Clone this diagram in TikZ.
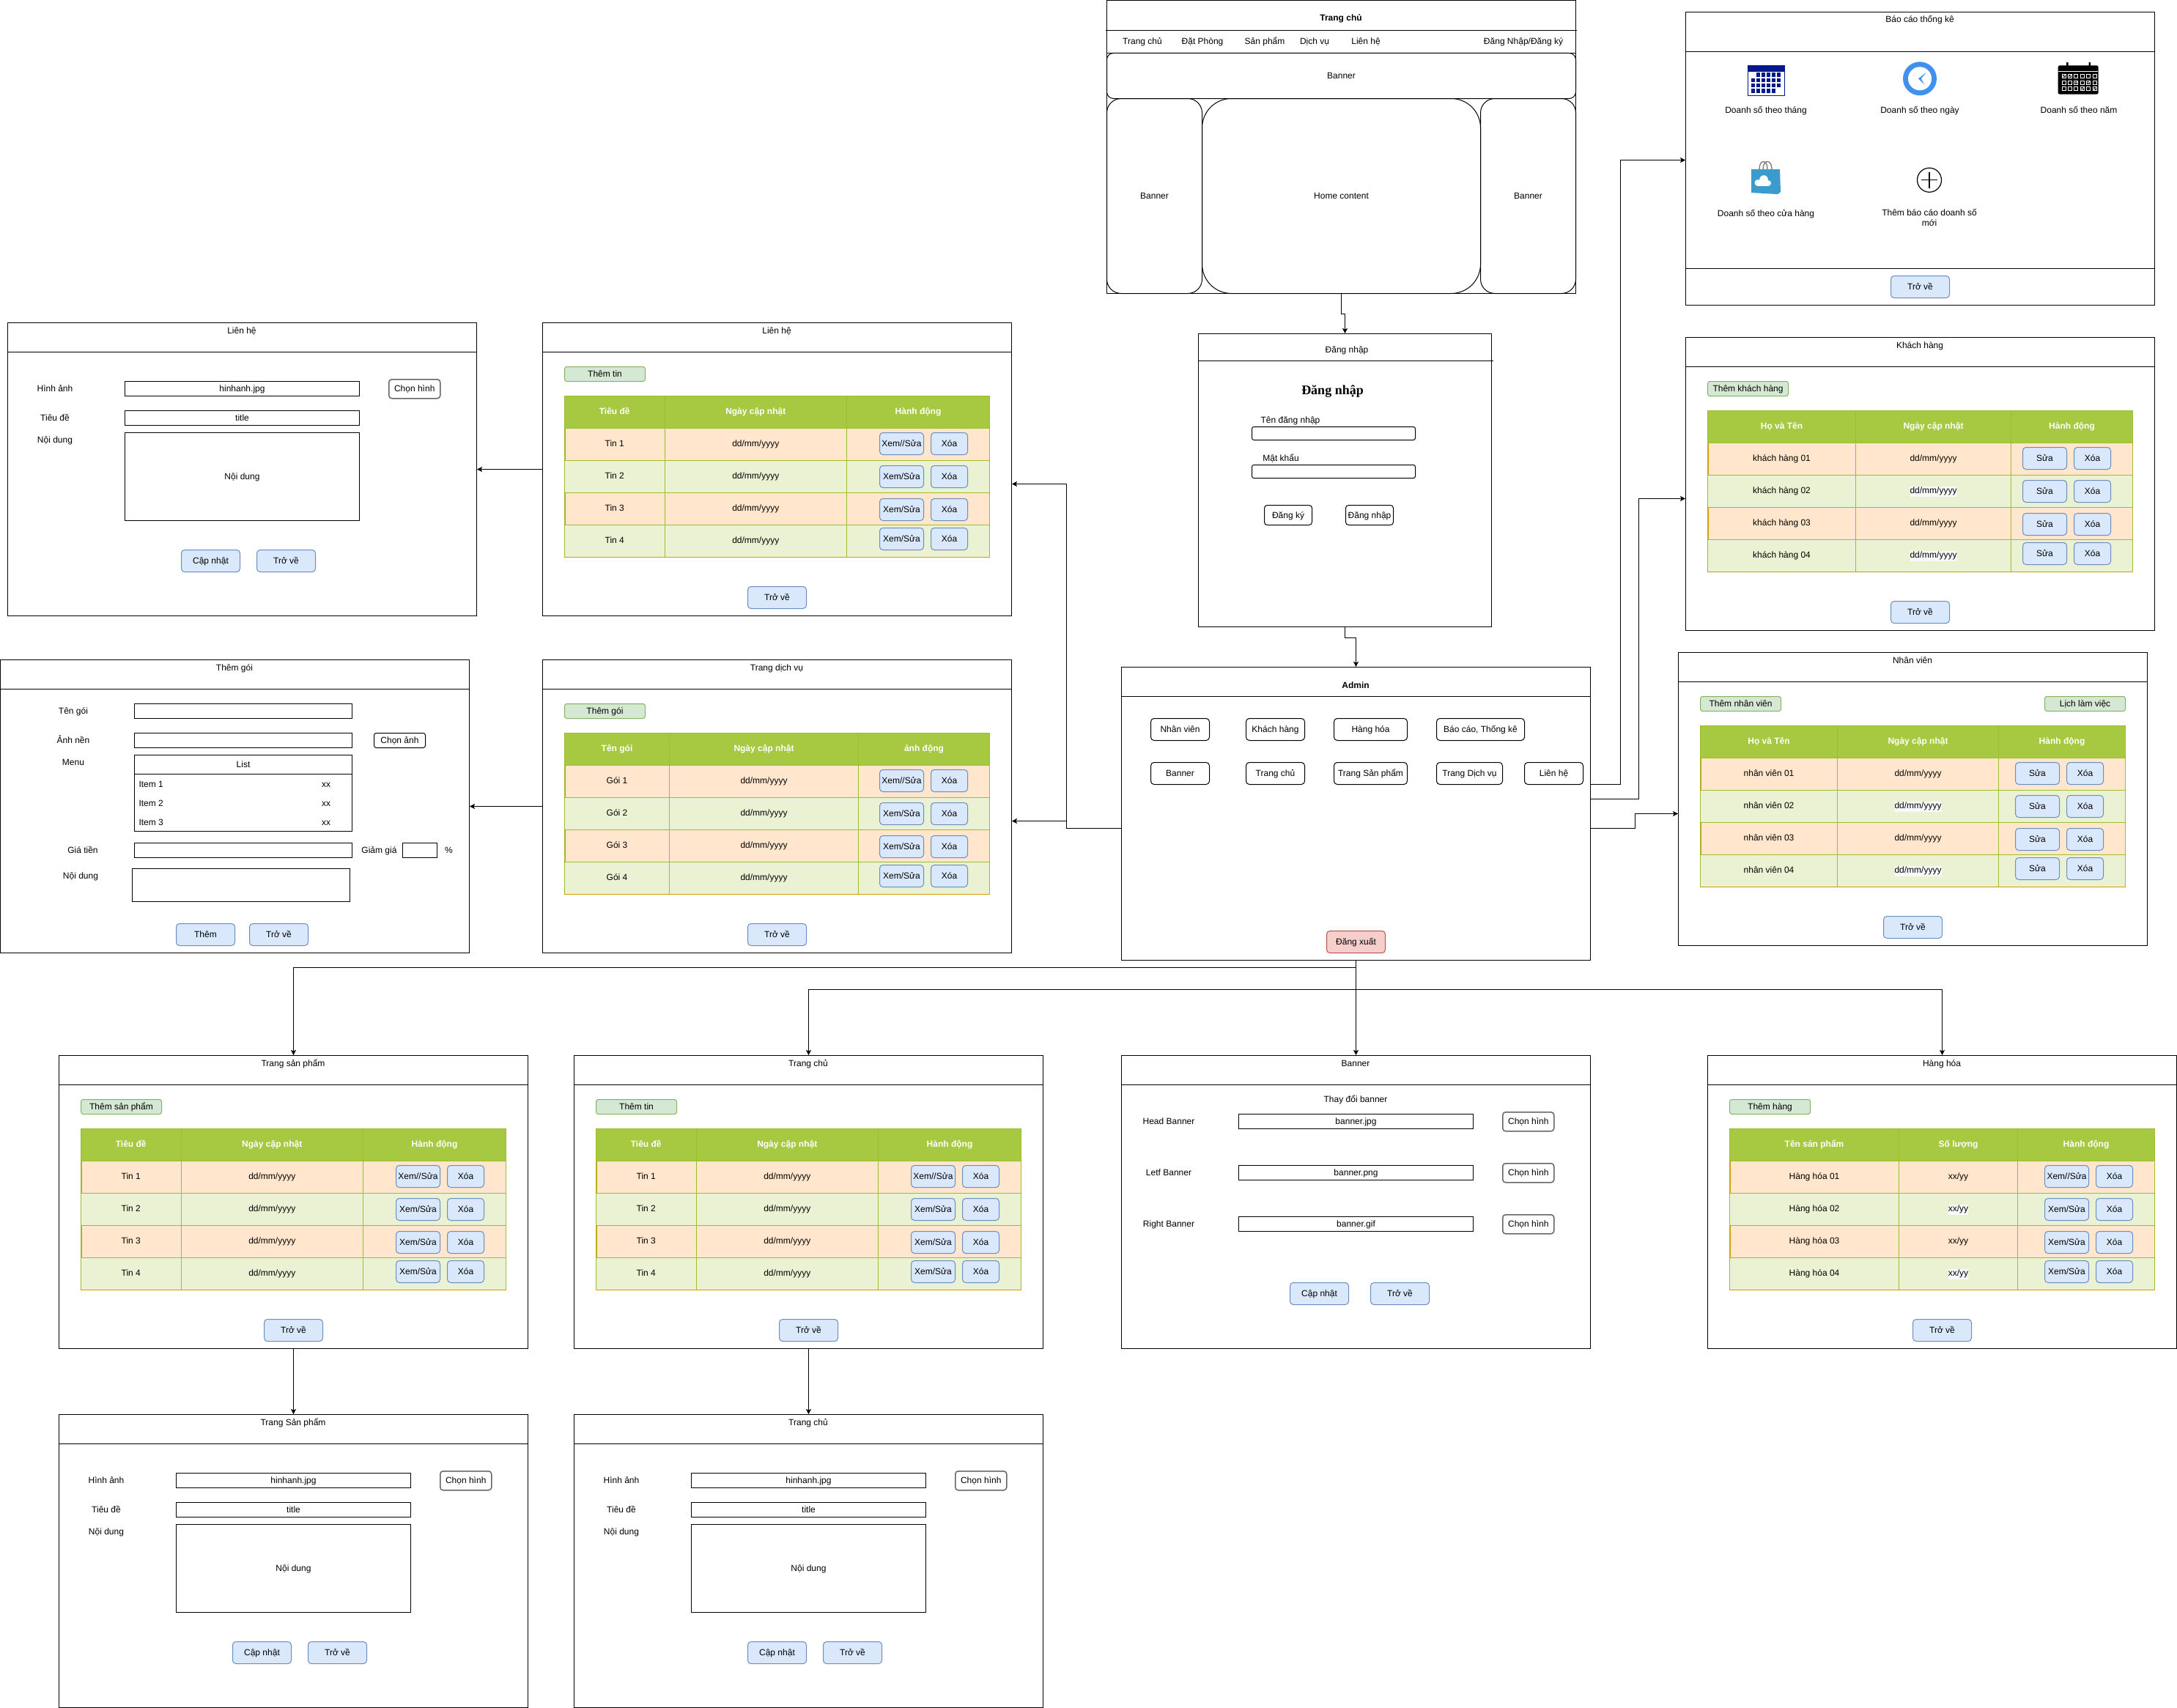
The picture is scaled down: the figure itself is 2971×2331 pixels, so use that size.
\documentclass[tikz,border=0pt]{standalone}
\usepackage{fontspec}
\setmainfont{Liberation Sans}
\newfontfamily\loginfont{Liberation Serif}
\usepackage{xcolor}
\definecolor{headgreen}{HTML}{A7C942}
\definecolor{cellline}{HTML}{9CBE2E}
\definecolor{rowa}{HTML}{FFE6CC}
\definecolor{rowb}{HTML}{EAF2D3}
\definecolor{rowedge}{HTML}{D79B00}
\definecolor{datebg}{HTML}{F8F9FA}
\definecolor{btnblue}{HTML}{DAE8FC}
\definecolor{btnline}{HTML}{6C8EBF}
\definecolor{addgreen}{HTML}{D5E8D4}
\definecolor{addline}{HTML}{82B366}
\definecolor{exitred}{HTML}{F8CECC}
\definecolor{exitline}{HTML}{B85450}
\definecolor{pickline}{HTML}{666666}
\definecolor{calblue}{HTML}{00188D}
\definecolor{clockblue}{HTML}{4090F0}
\definecolor{bagblue}{HTML}{3A9BCC}
\usetikzlibrary{arrows.meta}
\tikzset{
  screen/.style={draw,anchor=north west,inner sep=0pt,minimum width=640pt,minimum height=400pt},
  txt/.style={inner sep=0pt,text height=11pt},
  bluebtn/.style={draw=btnline,fill=btnblue,rounded corners=4.5pt,anchor=north west,inner sep=0pt,
                  text height=11pt,minimum height=30pt,minimum width=(#1)*1pt},
  redbtn/.style={bluebtn=#1,draw=exitline,fill=exitred},
  addbtn/.style={draw=addline,fill=addgreen,rounded corners=3pt,anchor=north west,inner sep=0pt,
                 text height=11pt,minimum height=20pt,minimum width=110pt},
  menubtn/.style={draw,rounded corners=4.5pt,anchor=north west,inner sep=0pt,text height=11pt,
                  minimum height=30pt,minimum width=(#1)*1pt},
  pickbtn/.style={draw=pickline,line width=1.5pt,fill=white,rounded corners=3.9pt,anchor=north west,
                  inner sep=0pt,text height=11pt,minimum width=70pt,minimum height=26pt},
  inputbox/.style={draw,anchor=north west,inner sep=0pt,text height=11pt,minimum height=(#1)*1pt,minimum width=320pt},
  inputbox/.default=20,
  roundbox/.style={draw,anchor=north west,inner sep=0pt,text height=11pt,rounded corners=#1},
  headcell/.style={draw=cellline,fill=headgreen,anchor=north west,inner sep=0pt,text=white,
                   font=\fontsize{12}{14}\selectfont\bfseries,minimum height=44pt,minimum width=(#1)*1pt},
  tablecell/.style={draw=cellline,anchor=north west,inner sep=0pt,minimum height=44pt,minimum width=(#1)*1pt},
  flow/.style={-{Stealth[length=7pt,width=7pt,inset=1.5pt]},draw=black},
}
% frame of a screen with a table
\newcommand{\listframe}[3]{%
  \node[screen] (#1) at (0,0) {};
  \draw (0,40.5) -- (640,40.5);
  \node[txt] (#1title) at (320,11) {#2};
  \node[addbtn] (#1add) at (30,60) {#3};
  \node[bluebtn=80] (#1back) at (280,360) {Trở về};
}
% prefix, column edges, headings
\newcommand{\listhead}[6]{%
  \node[headcell=#2-30] (#1headA) at (30,100) {#4};
  \node[headcell=#3-#2] (#1headB) at (#2,100) {#5};
  \node[headcell=610-#3] (#1headC) at (#3,100) {#6};
}
% prefix, column edges, row text, date text, first button, other buttons, date background
\newcommand{\listrows}[8]{%
  \foreach \rownum/\rowtop/\btntop/\rowcol in {1/144/150/rowa,2/188/195/rowb,3/232/240/rowa,4/276/280/rowb}{
    \node[tablecell=#2-30,fill=\rowcol] (#1cellA\rownum) at (30,\rowtop) {#4\rownum};
    \node[tablecell=#3-#2,fill=\rowcol] (#1cellB\rownum) at (#2,\rowtop)
      {\ifodd\rownum\relax #5\else\setlength{\fboxsep}{0pt}\colorbox{#8}{\strut #5}\fi};
    \node[tablecell=610-#3,fill=\rowcol] (#1cellC\rownum) at (#3,\rowtop) {};
    \node[bluebtn=60] (#1edit\rownum) at (460,\btntop) {\ifnum\rownum=1\relax #6\else #7\fi};
    \node[bluebtn=50] (#1del\rownum) at (530,\btntop) {Xóa};
  }
  \draw[rowedge] (31.5,144) -- (31.5,188) (31.5,232) -- (31.5,276);
  \draw[rowedge,line width=1.5pt] (30,320.5) -- (610,320.5);
}
% screen with image, title and content fields
\newcommand{\editscreen}[2]{%
  \node[screen] (#1) at (0,0) {};
  \draw (0,40.5) -- (640,40.5);
  \node[txt] (#1title) at (320,11) {#2};
  \node[txt] (#1imglabel) at (65,90) {Hình ảnh};
  \node[inputbox] (#1img) at (160,80) {hinhanh.jpg};
  \node[pickbtn] (#1pick) at (520,77) {Chọn hình};
  \node[txt] (#1titlelabel) at (65,130) {Tiêu đề};
  \node[inputbox] (#1titlebox) at (160,120) {title};
  \node[txt] (#1bodylabel) at (65,160) {Nội dung};
  \node[inputbox=120] (#1body) at (160,150) {Nội dung};
  \node[bluebtn=80] (#1save) at (237,310) {Cập nhật};
  \node[bluebtn=80] (#1back) at (340,310) {Trở về};
}
\begin{document}
\begin{tikzpicture}[x=1pt,y=-1pt,line width=1pt,every node/.style={font=\fontsize{12}{14}\selectfont,text height=9pt,text depth=3pt}]
  \useasboundingbox (0,0) rectangle (2971,2331);
  % home page
  \begin{scope}[shift={(1510,0)}]
    \node[screen] (home) at (0,0) {};
    \draw (-1,41.5) -- (642,41.5);
    \draw (0,72.5) -- (640,72.5);
    \node[txt,font=\fontsize{12}{14}\selectfont\bfseries] (hometitle) at (320,25) {Trang chủ};
    \node[txt] (navhome) at (49,57) {Trang chủ};
    \node[txt] (navbook) at (131,57) {Đặt Phòng};
    \node[txt] (navprod) at (216,57) {Sản phẩm};
    \node[txt] (navserv) at (284,57) {Dịch vụ};
    \node[txt] (navcont) at (354,57) {Liên hệ};
    \node[txt] (navlogin) at (569,57) {Đăng Nhập/Đăng ký};
    \node[roundbox=9pt,minimum width=640pt,minimum height=62pt] (bantop) at (0,72) {Banner};
    \node[roundbox=19.5pt,minimum width=130pt,minimum height=266pt] (banleft) at (0,134) {Banner};
    \node[roundbox=40pt,minimum width=380pt,minimum height=266pt] (homebody) at (130,134) {Home content};
    \node[roundbox=19.5pt,minimum width=130pt,minimum height=266pt] (banright) at (510,134) {Banner};
  \end{scope}
  % login
  \begin{scope}[shift={(1635,455)}]
    \node[screen,minimum width=400pt] (login) at (0,0) {};
    \draw (0,37.5) -- (403,37.5);
    \node[txt] (logintitle) at (203,22.5) {Đăng nhập};
    \node[txt,font=\fontsize{18}{20}\loginfont\bfseries] (loginhead) at (183.5,79) {Đăng nhập};
    \node[txt] (userlabel) at (126,118.5) {Tên đăng nhập};
    \node[roundbox=2.7pt,minimum width=223pt,minimum height=18pt] (userbox) at (73,127) {};
    \node[txt] (passlabel) at (113,170.5) {Mật khẩu};
    \node[roundbox=2.7pt,minimum width=223pt,minimum height=18pt] (passbox) at (73,179) {};
    \node[roundbox=4pt,minimum width=65pt,minimum height=27pt] (regbtn) at (90,234) {Đăng ký};
    \node[roundbox=4pt,minimum width=65pt,minimum height=27pt] (loginbtn) at (201,234) {Đăng nhập};
  \end{scope}
  % admin
  \begin{scope}[shift={(1530,910)}]
    \node[screen] (admin) at (0,0) {};
    \draw (0,40.5) -- (640,40.5);
    \node[txt,font=\fontsize{12}{14}\selectfont\bfseries] (admintitle) at (320,25) {Admin};
    \node[menubtn=80] (menustaff) at (40,70) {Nhân viên};
    \node[menubtn=80] (menucust) at (170,70) {Khách hàng};
    \node[menubtn=100] (menugoods) at (290,70) {Hàng hóa};
    \node[menubtn=120] (menustats) at (430,70) {Báo cáo, Thống kê};
    \node[menubtn=80] (menubanner) at (40,130) {Banner};
    \node[menubtn=80] (menuhome) at (170,130) {Trang chủ};
    \node[menubtn=100] (menuprod) at (290,130) {Trang Sản phẩm};
    \node[menubtn=90] (menuserv) at (430,130) {Trang Dịch vụ};
    \node[menubtn=80] (menucont) at (550,130) {Liên hệ};
    \node[redbtn=80] (logout) at (280,360) {Đăng xuất};
  \end{scope}
  % reports
  \begin{scope}[shift={(2300,16)}]
    \node[screen] (stats) at (0,0) {};
    \draw (0,54.5) -- (640,54.5);
    \draw (0,350.5) -- (640,350.5);
    \node[txt] (statstitle) at (320,11) {Báo cáo thống kê};
    \node[bluebtn=80] (statsback) at (280,360) {Trở về};
    \node[txt] (statsmonth) at (110,134.5) {Doanh số theo tháng};
    \node[txt] (statsday) at (320,134.5) {Doanh số theo ngày};
    \node[txt] (statsyear) at (537,134.5) {Doanh số theo năm};
    \node[txt] (statsshop) at (110,275.5) {Doanh số theo cửa hàng};
    \node[txt,align=center,text height={},text depth={}] (statsnew) at (333,281) {Thêm báo cáo doanh số\\mới};
    % month calendar
    \draw[calblue,fill=white] (85.5,73.5) rectangle (135.5,114.5);
    \fill[calblue] (85.5,73.5) rectangle (135.5,81.5);
    \foreach \row/\col in {1/2,1/3,1/4,1/5,1/6,2/1,2/2,2/3,2/4,2/5,2/6,3/1,3/2,3/3,3/4,3/5,3/6,4/1,4/2,4/3,4/4,4/5}
      \fill[calblue] ({83+7*\col},{76+7.3*\row}) rectangle ++(5.2,5.4);
    % clock
    \fill[clockblue] (320,91.3) circle (23);
    \fill[white] (320,91.3) circle (16);
    \fill[clockblue] (328.5,83) -- (318,91.3) -- (326,99) -- (321.8,91.3) -- cycle;
    % year calendar
    \fill[black,rounded corners=2.5pt] (508.6,73.3) rectangle (563.7,112.7);
    \fill[black] (520,69) rectangle (522.5,77) (550.5,69) rectangle (553,77);
    \draw[white,line width=0.6pt] (509,81) -- (563,81);
    \foreach \row in {0,1,2}
      \foreach \col in {0,...,5}
        \draw[white,line width=0.7pt] ({514+8.4*\col},{85.3+8.7*\row}) rectangle ++(5,5);
    \foreach \col/\row in {0/0,1/0,2/1,4/1,3/2,5/2}
      \draw[white,line width=0.7pt] ({515+8.4*\col},{87.5+8.7*\row}) -- ++(1.3,1.5) -- ++(2,-3);
    % shop bag
    \draw[gray,line width=1.4pt] (101,215) .. controls (101,201) and (112,201) .. (112,215)
      (106,215) .. controls (106,201) and (118,201) .. (118,215);
    \fill[bagblue] (90,215) -- (129,215) -- (130,246) -- (126,249) -- (90,247) -- cycle;
    \fill[white] (107,229) circle (5.8);
    \fill[white] (99,233.5) circle (4.5);
    \fill[white] (113,234) circle (4);
    \fill[white] (98,232) rectangle (114,238);
    % add report
    \draw[line width=1.2pt] (333,229.7) circle (16.5);
    \draw[line width=1.2pt] (322,229.7) -- (344,229.7) (333,218.7) -- (333,240.7);
  \end{scope}
  % customers
  \begin{scope}[shift={(2300,460)}]
    \listframe{customers}{Khách hàng}{Thêm khách hàng}
    \listhead{customers}{232}{444}{Họ và Tên}{Ngày cập nhật}{Hành động}
    \listrows{customers}{232}{444}{khách hàng 0}{dd/mm/yyyy}{Sửa}{Sửa}{datebg}
  \end{scope}
  % staff
  \begin{scope}[shift={(2290,890)}]
    \listframe{staff}{Nhân viên}{Thêm nhân viên}
    \node[addbtn] (staffplan) at (500,60) {Lịch làm việc};
    \listhead{staff}{217}{437}{Họ và Tên}{Ngày cập nhật}{Hành động}
    \listrows{staff}{217}{437}{nhân viên 0}{dd/mm/yyyy}{Sửa}{Sửa}{datebg}
  \end{scope}
  % contact
  \begin{scope}[shift={(10,440)}]
    \editscreen{contactedit}{Liên hệ}
  \end{scope}
  \begin{scope}[shift={(740,440)}]
    \listframe{contact}{Liên hệ}{Thêm tin}
    \listhead{contact}{166.5}{415}{Tiêu đề}{Ngày cập nhật}{Hành động}
    \listrows{contact}{166.5}{415}{Tin }{dd/mm/yyyy}{Xem//Sửa}{Xem/Sửa}{rowb}
  \end{scope}
  % services
  \begin{scope}[shift={(740,900)}]
    \listframe{service}{Trang dịch vụ}{Thêm gói}
    \listhead{service}{173}{431}{Tên gói}{Ngày cập nhật}{ảnh động}
    \listrows{service}{173}{431}{Gói }{dd/mm/yyyy}{Xem//Sửa}{Xem/Sửa}{rowb}
  \end{scope}
  \begin{scope}[shift={(0,900)}]
    \node[screen] (addpack) at (0,0) {};
    \draw (0,40.5) -- (640,40.5);
    \node[txt] (addpacktitle) at (320,11) {Thêm gói};
    \node[txt] (packnamelabel) at (100,70) {Tên gói};
    \node[inputbox,minimum width=297pt] (packname) at (183,60) {};
    \node[txt] (packimglabel) at (100,110) {Ảnh nền};
    \node[inputbox,minimum width=297pt] (packimg) at (183,100) {};
    \node[roundbox=3pt,minimum width=70pt,minimum height=20pt] (packpick) at (510,100) {Chọn ảnh};
    \node[txt] (packmenulabel) at (100,140) {Menu};
    \node[inputbox=104,minimum width=297pt] (packlist) at (183,130) {};
    \draw (183.5,156.5) -- (480.5,156.5);
    \node[txt] (packlisthead) at (332,143) {List};
    \foreach \itemnum/\itemy in {1/170,2/196,3/222}{
      \node[txt,anchor=west] (packitem\itemnum) at (189,\itemy) {Item \itemnum};
      \node[txt] (packxx\itemnum) at (445,\itemy) {xx};
    }
    \node[txt] (packpricelabel) at (113,260) {Giá tiền};
    \node[inputbox,minimum width=297pt] (packprice) at (183,250) {};
    \node[txt] (packofflabel) at (517.5,260) {Giảm giá};
    \node[inputbox,minimum width=47pt] (packoff) at (549,250) {};
    \node[txt] (packpercent) at (612.5,260) {\%};
    \node[txt] (packbodylabel) at (110,295) {Nội dung};
    \node[inputbox=45,minimum width=297pt] (packbody) at (180,285) {};
    \node[bluebtn=80] (packadd) at (240,360) {Thêm};
    \node[bluebtn=80] (packback) at (340,360) {Trở về};
  \end{scope}
  % lower row
  \begin{scope}[shift={(80,1440)}]
    \listframe{products}{Trang sản phẩm}{Thêm sản phẩm}
    \listhead{products}{166.5}{415}{Tiêu đề}{Ngày cập nhật}{Hành động}
    \listrows{products}{166.5}{415}{Tin }{dd/mm/yyyy}{Xem//Sửa}{Xem/Sửa}{rowb}
  \end{scope}
  \begin{scope}[shift={(783,1440)}]
    \listframe{homepage}{Trang chủ}{Thêm tin}
    \listhead{homepage}{166.5}{415}{Tiêu đề}{Ngày cập nhật}{Hành động}
    \listrows{homepage}{166.5}{415}{Tin }{dd/mm/yyyy}{Xem//Sửa}{Xem/Sửa}{rowb}
  \end{scope}
  \begin{scope}[shift={(1530,1440)}]
    \node[screen] (bannerpage) at (0,0) {};
    \draw (0,40.5) -- (640,40.5);
    \node[txt] (bannertitle) at (320,11) {Banner};
    \node[txt] (bannerhint) at (320,60) {Thay đổi banner};
    \foreach \slot/\slotname/\slotfile/\sloty in {head/Head Banner/banner.jpg/80,left/Letf Banner/banner.png/150,right/Right Banner/banner.gif/220}{
      \node[txt] (\slot label) at (65,\sloty+10) {\slotname};
      \node[inputbox] (\slot file) at (160,\sloty) {\slotfile};
      \node[pickbtn] (\slot pick) at (520,\sloty-3) {Chọn hình};
    }
    \node[bluebtn=80] (bannersave) at (230,310) {Cập nhật};
    \node[bluebtn=80] (bannerback) at (340,310) {Trở về};
  \end{scope}
  \begin{scope}[shift={(2330,1440)}]
    \listframe{goods}{Hàng hóa}{Thêm hàng}
    \listhead{goods}{261}{423}{Tên sản phẩm}{Số lượng}{Hành động}
    \listrows{goods}{261}{423}{Hàng hóa 0}{xx/yy}{Xem//Sửa}{Xem/Sửa}{datebg}
  \end{scope}
  % edit screens
  \begin{scope}[shift={(80,1930)}]
    \editscreen{productedit}{Trang Sản phẩm}
  \end{scope}
  \begin{scope}[shift={(783,1930)}]
    \editscreen{homeedit}{Trang chủ}
  \end{scope}
  % arrows
  \draw[flow] (home.south) -- ++(0,27.5) -| (login.north);
  \draw[flow] (login.south) -- ++(0,14.5) -| (admin.north);
  \draw[flow] ([yshift=40pt]admin.east) -- ++(40,0) |- ([yshift=-2pt]stats.west);
  \draw[flow] ([yshift=20pt]admin.east) -- ++(65,0) |- ([yshift=-20pt]customers.west);
  \draw[flow] ([yshift=-20pt]admin.east) -- ++(60,0) |- ([yshift=-20pt]staff.west);
  \draw[flow] ([yshift=-20pt]admin.west) -- ++(-75,0) |- ([yshift=-20pt]contact.east);
  \draw[flow] ([yshift=-20pt]admin.west) -- ++(-75,0) |- ([yshift=-20pt]service.east);
  \draw[flow] (contact.west) -- (contactedit.east);
  \draw[flow] (service.west) -- (addpack.east);
  \draw[flow] (admin.south) -- ++(0,9.5) -| (products.north);
  \draw[flow] (admin.south) -- ++(0,39.5) -| (homepage.north);
  \draw[flow] (admin.south) -- (bannerpage.north);
  \draw[flow] (admin.south) -- ++(0,39.5) -| (goods.north);
  \draw[flow] (products.south) -- (productedit.north);
  \draw[flow] (homepage.south) -- (homeedit.north);
\end{tikzpicture}
\end{document}
